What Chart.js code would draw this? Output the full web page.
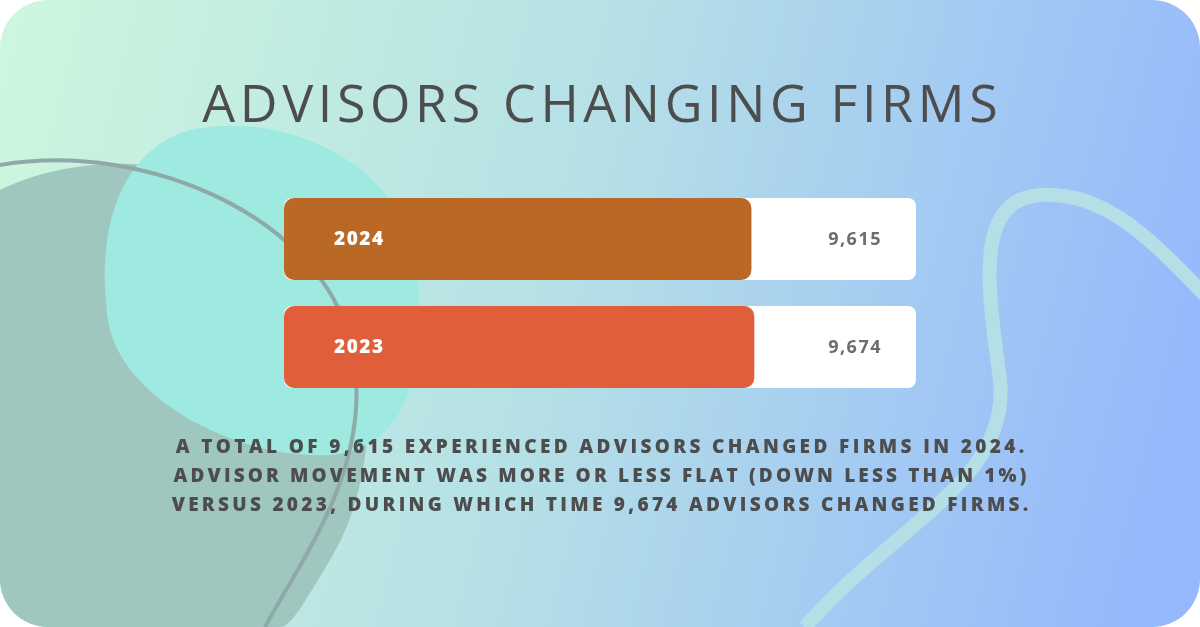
<!DOCTYPE html>
<html><head><meta charset="utf-8">
<script src="https://cdn.jsdelivr.net/npm/chart.js@4"></script>
<style>html,body{margin:0;padding:0;background:#fff;}#w{width:1200px;height:627px;position:relative}</style>
</head><body><div id="w"><canvas id="c" width="1200" height="627"></canvas></div>
<script>
const categories = ["2024", "2023"];
const values = [9615, 9674];
const valueLabels = ["9,615", "9,674"];
const axisMax = 13000;
const barColors = ["#b96825", "#e05e3a"];
const titleText = "ADVISORS CHANGING FIRMS";
const noteLines = [
  "A TOTAL OF 9,615 EXPERIENCED ADVISORS CHANGED FIRMS IN 2024.",
  "ADVISOR MOVEMENT WAS MORE OR LESS FLAT (DOWN LESS THAN 1%)",
  "VERSUS 2023, DURING WHICH TIME 9,674 ADVISORS CHANGED FIRMS."
];

function rr(ctx,x,y,w,h,r){ctx.beginPath();ctx.roundRect(x,y,w,h,r);}
function fitText(ctx,t,cx,y,target){
  ctx.letterSpacing="0px";const m=ctx.measureText(t).width;
  const s=(target-m)/(t.length);ctx.letterSpacing=s+"px";
  ctx.textAlign="left";ctx.fillText(t,cx-target/2+s/2,y);ctx.letterSpacing="0px";
}
const bg={id:"bg",beforeDraw(ch){
  const ctx=ch.ctx;ctx.save();
  rr(ctx,0,0,1200,627,48);ctx.clip();
  const g=ctx.createLinearGradient(0,0,1200,300);
  g.addColorStop(0,"#cdf7dd");g.addColorStop(0.5,"#b5e0e6");g.addColorStop(1,"#95b9fc");
  ctx.fillStyle=g;ctx.fillRect(0,0,1200,627);
  ctx.fillStyle="#9fc7bf";ctx.beginPath();
  ctx.moveTo(0,190);ctx.bezierCurveTo(80,150,220,150,300,230);
  ctx.bezierCurveTo(390,330,380,480,330,560);ctx.bezierCurveTo(300,610,290,627,280,627);
  ctx.lineTo(0,627);ctx.closePath();ctx.fill();
  ctx.fillStyle="#9eeae0";ctx.beginPath();
  ctx.moveTo(190,130);ctx.bezierCurveTo(280,110,400,160,415,260);
  ctx.bezierCurveTo(430,360,410,450,330,455);ctx.bezierCurveTo(240,460,120,400,108,320);
  ctx.bezierCurveTo(95,230,120,150,190,130);ctx.closePath();ctx.fill();
  ctx.strokeStyle="#8fa8a8";ctx.lineWidth=4;ctx.beginPath();
  ctx.moveTo(0,165);ctx.bezierCurveTo(150,140,320,220,350,340);
  ctx.bezierCurveTo(380,460,300,560,265,627);ctx.stroke();
  ctx.strokeStyle="#b4dfe6";ctx.lineWidth=14;ctx.beginPath();
  ctx.moveTo(805,627);ctx.bezierCurveTo(900,520,1010,480,1000,380);
  ctx.bezierCurveTo(990,300,970,200,1040,195);ctx.bezierCurveTo(1110,190,1160,250,1210,300);ctx.stroke();
  ctx.fillStyle="#4d4d4d";ctx.font="500 52px 'Open Sans'";ctx.textBaseline="middle";
  fitText(ctx,titleText,600,107,800);
  ctx.font="800 19px 'Open Sans'";
  const tw=[852,856,860];
  noteLines.forEach((l,i)=>fitText(ctx,l,600,448+i*29,tw[i]));
  ctx.restore();
}};
const labels={id:"labels",afterDatasetsDraw(ch){
  const ctx=ch.ctx,y=ch.scales.y,x=ch.scales.x;ctx.save();ctx.textBaseline="middle";
  categories.forEach((c,i)=>{
    const yy=y.getPixelForValue(i)+1;
    ctx.fillStyle="#fff";ctx.font="800 19px 'Open Sans'";ctx.letterSpacing="1.5px";ctx.textAlign="left";
    ctx.fillText(c,x.getPixelForValue(0)+50,yy);
    ctx.fillStyle="#6e6e6e";ctx.textAlign="right";ctx.font="700 18px 'Open Sans'";
    ctx.fillText(valueLabels[i],x.getPixelForValue(axisMax)-34,yy);
  });
  ctx.restore();
}};
new Chart(document.getElementById("c"),{
  type:"bar",
  data:{labels:categories,datasets:[
    {data:values,backgroundColor:barColors,borderRadius:10,borderSkipped:false,barPercentage:0.76,categoryPercentage:1,order:0},
    {data:categories.map(()=>axisMax),backgroundColor:"#ffffff",borderRadius:8,borderSkipped:false,barPercentage:0.76,categoryPercentage:1,order:1}
  ]},
  options:{indexAxis:"y",responsive:false,animation:false,devicePixelRatio:1,
    layout:{padding:{left:284,right:284,top:185,bottom:226}},
    datasets:{bar:{grouped:false}},
    scales:{x:{display:false,min:0,max:axisMax},y:{display:false}},
    plugins:{legend:{display:false},tooltip:{enabled:false},title:{display:false}}},
  plugins:[bg,labels]
});
</script></body></html>
